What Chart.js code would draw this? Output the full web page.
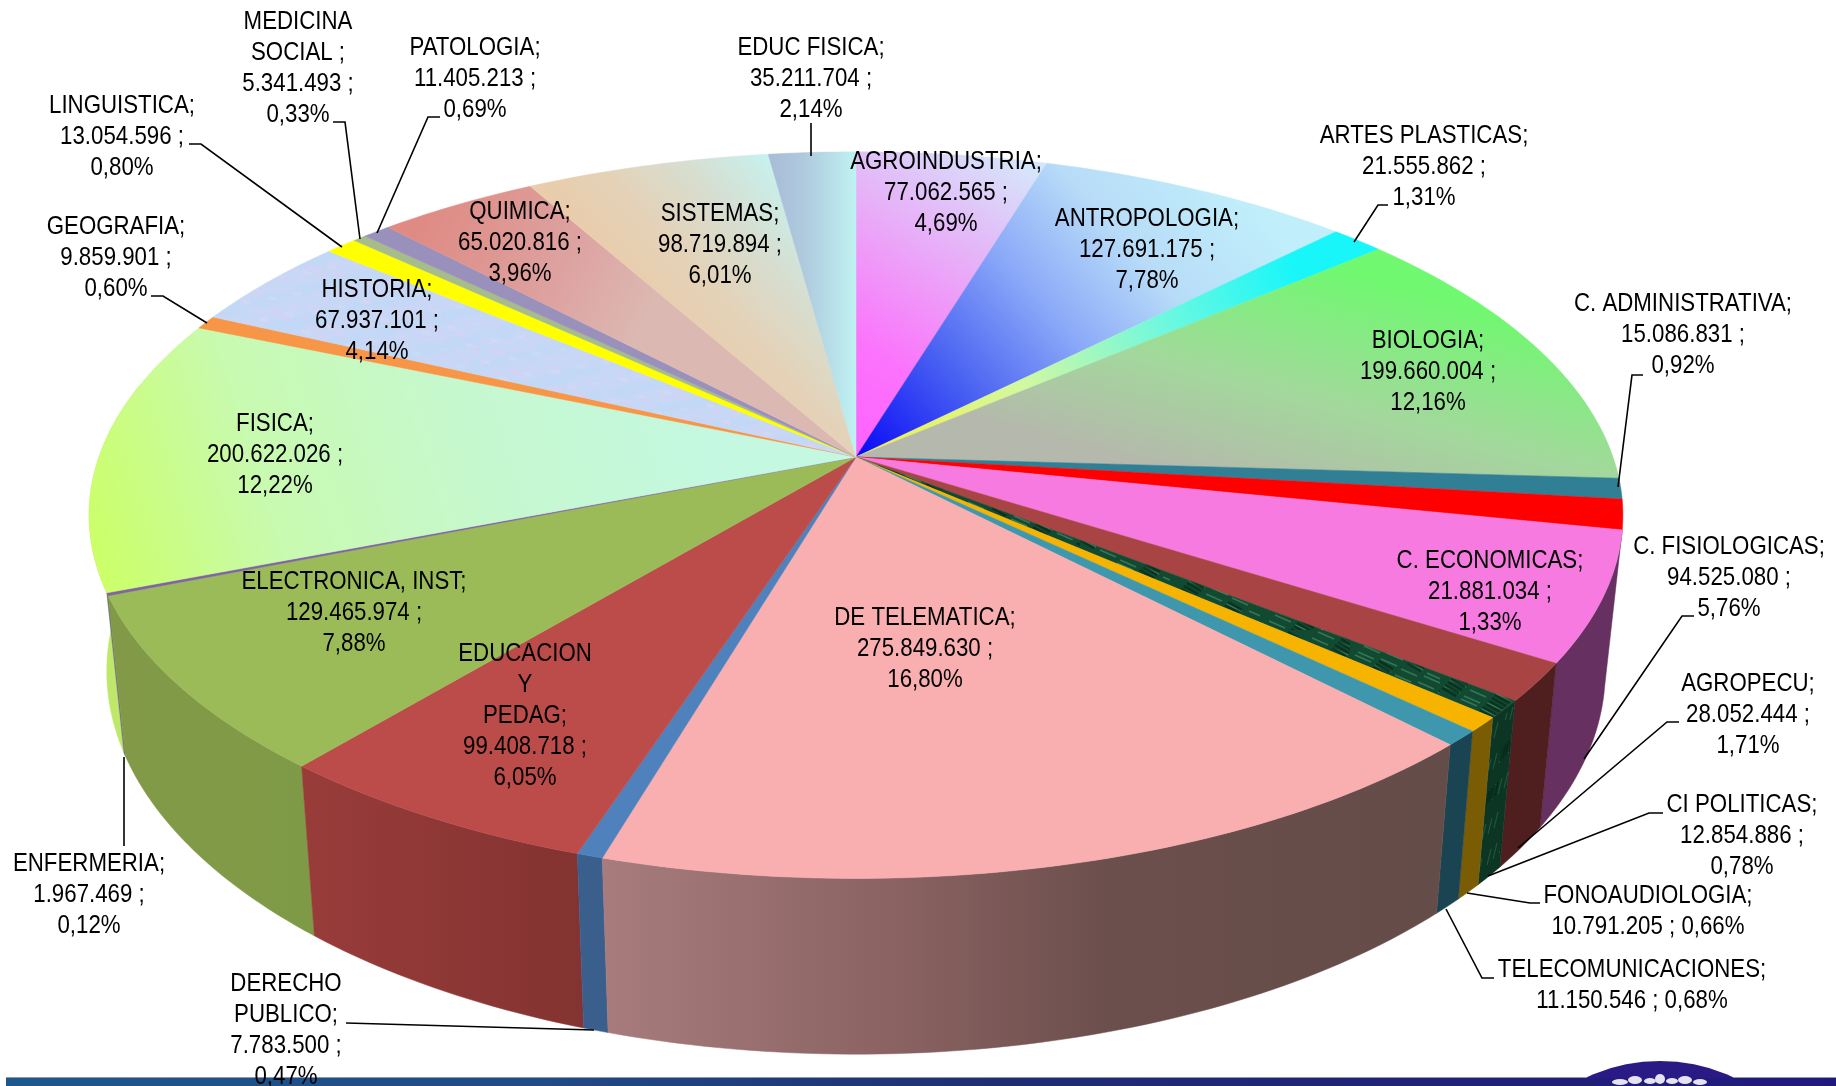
<!DOCTYPE html>
<html><head><meta charset="utf-8">
<style>html,body{margin:0;padding:0;background:#fff}canvas{display:block}</style>
<script src="https://cdn.jsdelivr.net/npm/chart.js@4/dist/chart.umd.js"></script>
</head><body><canvas id="c" width="1836" height="1086"></canvas>
<script>
const categories = ['AGROINDUSTRIA','ANTROPOLOGIA','ARTES PLASTICAS','BIOLOGIA','C. ADMINISTRATIVA','C. ECONOMICAS','C. FISIOLOGICAS','AGROPECU','CI POLITICAS','FONOAUDIOLOGIA','TELECOMUNICACIONES','DE TELEMATICA','DERECHO PUBLICO','EDUCACION Y PEDAG','ELECTRONICA, INST','ENFERMERIA','FISICA','GEOGRAFIA','HISTORIA','LINGUISTICA','MEDICINA SOCIAL','PATOLOGIA','QUIMICA','SISTEMAS','EDUC FISICA'];
const values = [77062565,127691175,21555862,199660004,15086831,21881034,94525080,28052444,12854886,10791205,11150546,275849630,7783500,99408718,129465974,1967469,200622026,9859901,67937101,13054596,5341493,11405213,65020816,98719894,35211704];
const percents = ['4,69%','7,78%','1,31%','12,16%','0,92%','1,33%','5,76%','1,71%','0,78%','0,66%','0,68%','16,80%','0,47%','6,05%','7,88%','0,12%','12,22%','0,60%','4,14%','0,80%','0,33%','0,69%','3,96%','6,01%','2,14%'];
// Wrapped label names (category index -> printed lines)
const wrappedNames = {12:['DERECHO','PUBLICO;'],13:['EDUCACION','Y','PEDAG;'],20:['MEDICINA','SOCIAL ;']};
const inlineValue = [9,10];

// ---- layout and style tables ----
const labelCentres = [[946,162],[1147,219],[1424,136],[1428,341],[1683,304],[1490,561],[1729,547],[1748,684],[1742,805],[1648,896],[1632,970],[925,618],[286,984],[525,654],[354,582],[89,864],[275,424],[116,227],[377,290],[122,106],[298,22],[475,48],[520,212],[720,214],[811,48]];
const leaders = [
 [[189,144],[201,144],[342,247]],[[333,122],[345,122],[360,239]],[[440,117],[428,117],[377,233]],
 [[151,296],[163,296],[207,323]],[[811,123],[811,156]],[[1388,205],[1378,205],[1354,242]],
 [[1643,375],[1632,375],[1618,487]],[[1694,616],[1682,616],[1584,759]],[[1679,722],[1667,722],[1518,848]],
 [[1663,813],[1649,813],[1488,876]],[[1540,903],[1530,903],[1467,893]],[[1494,978],[1482,978],[1446,909]],
 [[124,757],[124,846]],[[346,1023],[594,1030]]];
const LINE_H = 31, FONT = '26.5px "Liberation Sans"', TEXT_SQUEEZE = 0.84;
// Perspective of the pie: horizontal reach, vertical reach, foreshortening
const VIEW = {rx:757/457, ry:354/457, p:0.16, depth:153, depthSlope:0.054, shrink:0.977};
// Side walls are painted from the outer ends of the visible rim toward the front
const wallOrder = [16,15,14,13,12,6,7,8,9,10,11];

const scratch = document.createElement('canvas').getContext('2d');
function lin(x0,y0,x1,y1,stops){const g=scratch.createLinearGradient(x0,y0,x1,y1);stops.forEach(c=>g.addColorStop(c[0],c[1]));return g;}
function texture(w,h,base,blur,streaks){const k=document.createElement('canvas');k.width=w;k.height=h;const t=k.getContext('2d');t.fillStyle=base;t.fillRect(0,0,w,h);t.filter='blur('+blur+'px)';
 streaks.forEach(s=>{t.strokeStyle=s.c;t.lineWidth=s.w;t.globalAlpha=s.a;for(let i=0;i<s.n;i++){const x=(i*s.sx)%w,y=(i*s.sy)%h;t.beginPath();t.moveTo(x,y);t.lineTo(x+s.dx,y+s.dy);t.stroke();}});
 return scratch.createPattern(k,'repeat');}
const marble = texture(90,90,'#114a31',.6,[{c:'#4a8c6c',w:1.6,a:.65,n:46,sx:37,sy:23,dx:16,dy:7},{c:'#072c1b',w:2.4,a:.8,n:34,sx:29,sy:31,dx:14,dy:8}]);
const marbleWall = texture(90,90,'#0c3524',.6,[{c:'#2f6e50',w:1.2,a:.55,n:40,sx:37,sy:23,dx:-4,dy:16},{c:'#06281a',w:1.8,a:.8,n:30,sx:29,sy:31,dx:-3,dy:14}]);
const mottled = texture(120,60,'#c7d8f6',1,[{c:'#dcd0f4',w:2,a:.7,n:50,sx:37,sy:17,dx:14,dy:2},{c:'#b8dcf8',w:2,a:.7,n:50,sx:29,sy:23,dx:16,dy:-2},{c:'#e6e2f8',w:1.2,a:.6,n:25,sx:43,sy:13,dx:9,dy:1}]);

const faceFills = [
 lin(856,457,1030,170,[[0,'#ff60ff'],[.3,'#fb74fc'],[.55,'#ee9cf8'],[.8,'#e0c4f8'],[1,'#d6e4fb']]),
 lin(856,457,1200,150,[[0,'#0808f6'],[.28,'#4a62f2'],[.52,'#8aa8f8'],[.75,'#b8dcf8'],[1,'#c0eefa']]),
 lin(880,445,1352,245,[[0,'#f2f04c'],[.3,'#d2f8a0'],[.6,'#70f8de'],[.88,'#18f6fa'],[1,'#18f6fa']]),
 lin(1200,480,1260,250,[[0,'#b5b8ac'],[.45,'#a3d89c'],[1,'#70f870']]),
 '#317f95','#ff0000','#f67ae0','#a84444',marble,'#f6b400','#3f97ae','#f9aeb0','#4f81bd','#bc4c4a','#9bbb59','#8064a2',
 lin(100,590,700,400,[[0,'#ccff66'],[.3,'#c8fab0'],[.6,'#c6f8cc'],[1,'#c4f8e0']]),
 '#f79646',mottled,'#ffff00','#a6bd8a','#9a90bc',
 lin(420,230,640,330,[[0,'#df8b84'],[.6,'#dda2a0'],[1,'#dcb8b2']]),
 lin(600,300,770,150,[[0,'#eccaa4'],[.4,'#e4d2b8'],[.7,'#d6dfd2'],[1,'#c6f3f0']]),
 lin(770,300,856,300,[[0,'#a8bcd8'],[.4,'#afcadd'],[1,'#bff2f2']])
];
const wallFills = {
 6:'#663060',7:'#4f1f1f',8:marbleWall,9:'#7a5c05',10:'#1b4453',
 11:lin(600,0,1450,0,[[0,'#a87c7c'],[.35,'#8a6262'],[.6,'#6b4f4c'],[1,'#644c48']]),
 12:'#3a5f8c',
 13:lin(310,0,580,0,[[0,'#983c3a'],[1,'#833331']]),
 14:lin(110,0,310,0,[[0,'#829a48'],[1,'#7f9a46']]),
 15:'#6d6a80',16:'#bfe86a'
};

// ---- pie drawn in perspective: angles and radius come from Chart.js arc elements ----
function project(el,a){const u=Math.cos(a),v=-Math.sin(a),w=1+VIEW.p*v,r=el.outerRadius;
 return [el.x+VIEW.rx*r*u/w, el.y-VIEW.ry*r*v/w];}
function lower(el,pt){return [el.x+(pt[0]-el.x)*VIEW.shrink, pt[1]+VIEW.depth+VIEW.depthSlope*(pt[1]-el.y)];}
Chart.ArcElement.prototype.draw=function(ctx){
 const n=Math.max(2,Math.ceil((this.endAngle-this.startAngle)*60));
 ctx.save();ctx.beginPath();ctx.moveTo(this.x,this.y);
 for(let i=0;i<=n;i++){const p=project(this,this.startAngle+(this.endAngle-this.startAngle)*i/n);ctx.lineTo(p[0],p[1]);}
 ctx.closePath();ctx.fillStyle=this.options.backgroundColor;ctx.fill();
 ctx.strokeStyle=this.options.backgroundColor;ctx.lineWidth=.5;ctx.stroke();ctx.restore();
};
const pie3d={id:'pie3d',
 beforeDraw(chart){const c=chart.ctx;c.save();
  c.fillStyle='#fff';c.fillRect(0,0,1836,1086);
  c.fillStyle='#2a1a85';c.beginPath();c.arc(1660,1235,174,0,Math.PI*2);c.fill();
  c.fillStyle=lin(6,0,1836,0,[[0,'#1c578e'],[.3,'#1f4a85'],[.55,'#1f2c74'],[1,'#21187c']]);c.fillRect(6,1078,1830,8);
  c.fillStyle='#8f97b8';c.fillRect(6,1077,1581,1);c.fillRect(1733,1077,103,1);
  c.fillStyle='#e6e2f0';
  [[1620,1082,8,3],[1635,1080,7,4],[1650,1081,6,3],[1660,1079,5,5],[1672,1081,6,3],[1685,1080,7,4],[1700,1082,7,3]].forEach(b=>{c.beginPath();c.ellipse(b[0],b[1],b[2],b[3],0,0,Math.PI*2);c.fill();});
  c.restore();},
 beforeDatasetsDraw(chart){const c=chart.ctx,lo=-.1,hi=3.35,arcs=chart.getDatasetMeta(0).data;
  wallOrder.forEach(i=>{const el=arcs[i],f=wallFills[i];
   const s=Math.max(el.startAngle,lo),e=Math.min(el.endAngle,hi);if(e<=s)return;
   const n=Math.max(2,Math.ceil((e-s)*60)),top=[];for(let k=0;k<=n;k++)top.push(project(el,s+(e-s)*k/n));
   c.save();c.beginPath();top.forEach((p,k)=>k?c.lineTo(p[0],p[1]):c.moveTo(p[0],p[1]));
   top.slice().reverse().forEach(p=>{const q=lower(el,p);c.lineTo(q[0],q[1]);});c.closePath();
   c.fillStyle=f;c.strokeStyle=f;c.lineWidth=.5;c.fill();c.stroke();c.restore();});
 },
 afterDatasetsDraw(chart){const c=chart.ctx;c.save();
  c.strokeStyle='#000';c.lineWidth=1.6;c.lineJoin='miter';
  leaders.forEach(l=>{c.beginPath();l.forEach((p,k)=>k?c.lineTo(p[0],p[1]):c.moveTo(p[0],p[1]));c.stroke();});
  c.fillStyle='#000';c.font=FONT;c.textAlign='center';c.textBaseline='middle';
  categories.forEach((name,i)=>{const val=values[i].toLocaleString('de-DE');
   const lines=(wrappedNames[i]||[name+';']).slice();
   if(inlineValue.includes(i))lines.push(val+' ; '+percents[i]);else lines.push(val+' ;',percents[i]);
   const [x,y]=labelCentres[i];
   lines.forEach((t,k)=>{c.save();c.translate(x,y+k*LINE_H);c.scale(TEXT_SQUEEZE,1);c.fillText(t,0,0);c.restore();});});
  c.restore();}
};
new Chart(document.getElementById('c'),{type:'pie',plugins:[pie3d],
 data:{labels:categories,datasets:[{data:values,backgroundColor:faceFills,borderWidth:0}]},
 options:{responsive:false,animation:false,events:[],layout:{padding:{left:0,right:124,top:0,bottom:172}},
  plugins:{legend:{display:false},tooltip:{enabled:false},title:{display:false}}}});
</script></body></html>
